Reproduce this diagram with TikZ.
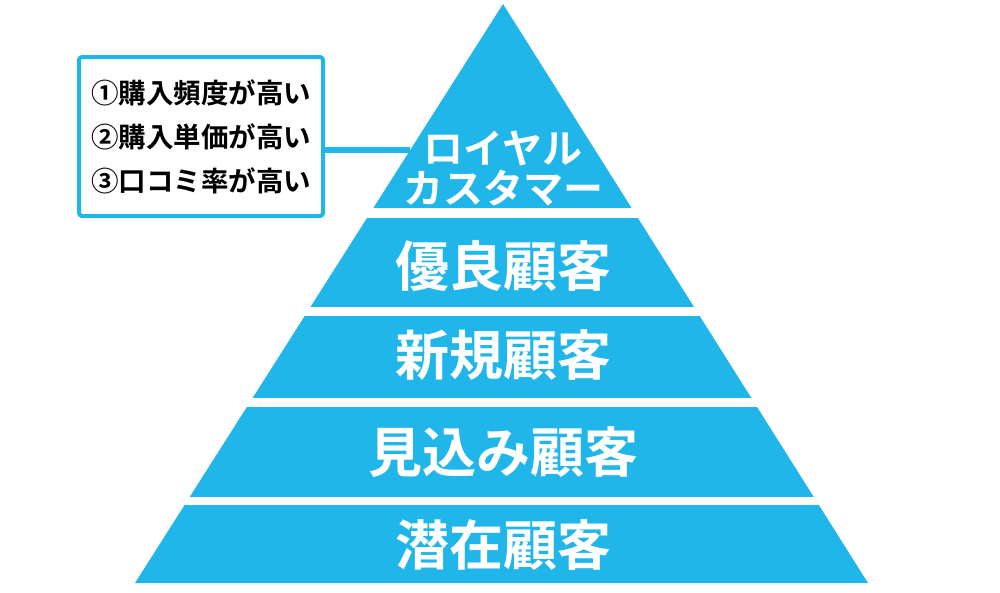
\documentclass[tikz,border=0pt]{standalone}
\usepackage{fontspec}
\setmainfont{Noto Sans CJK JP}[BoldFont={Noto Sans CJK JP Bold}]
\usetikzlibrary{calc}
\definecolor{skyblue}{RGB}{32,182,234}
\tikzset{
  layertext/.style={text=white, font=\bfseries\fontsize{54}{54}\selectfont, inner sep=0pt},
  pointbox/.style={draw=skyblue, line width=4pt, rounded corners=3pt, fill=white,
    minimum width=244, minimum height=159, align=left,
    font=\bfseries\fontsize{27.5}{44}\selectfont}
}
\begin{document}
\begin{tikzpicture}[x=1pt, y=-1pt, line join=round]
  \useasboundingbox (0,0) rectangle (1000,592);
  \coordinate (apex) at (503,4);
  \coordinate (bl) at (135,583);
  \coordinate (br) at (868,583);
  % pyramid, cut by white bands
  \fill[skyblue] (apex) -- (bl) -- (br) -- cycle;
  \fill[white] (100,208) rectangle (900,218);
  \fill[white] (100,307) rectangle (900,316);
  \fill[white] (100,398) rectangle (900,407);
  \fill[white] (100,497) rectangle (900,505);
  % labels
  \node[layertext, align=center, font=\bfseries\fontsize{40}{40}\selectfont] (royal) at (503,168) {ロイヤル\\カスタマー};
  \node[layertext] (yuryo) at (503,266) {優良顧客};
  \node[layertext] (shinki) at (503,355) {新規顧客};
  \node[layertext] (mikomi) at (503,452) {見込み顧客};
  \node[layertext] (senzai) at (503,545) {潜在顧客};
  % call-out
  \node[pointbox] (points) at (201,136.5) {①購入頻度が高い\\②購入単価が高い\\③口コミ率が高い};
  \coordinate (edge) at ($(apex)!0.2522!(bl)$);
  \draw[skyblue, line width=5.5pt] (edge -| points.east) -- (edge);
\end{tikzpicture}
\end{document}
